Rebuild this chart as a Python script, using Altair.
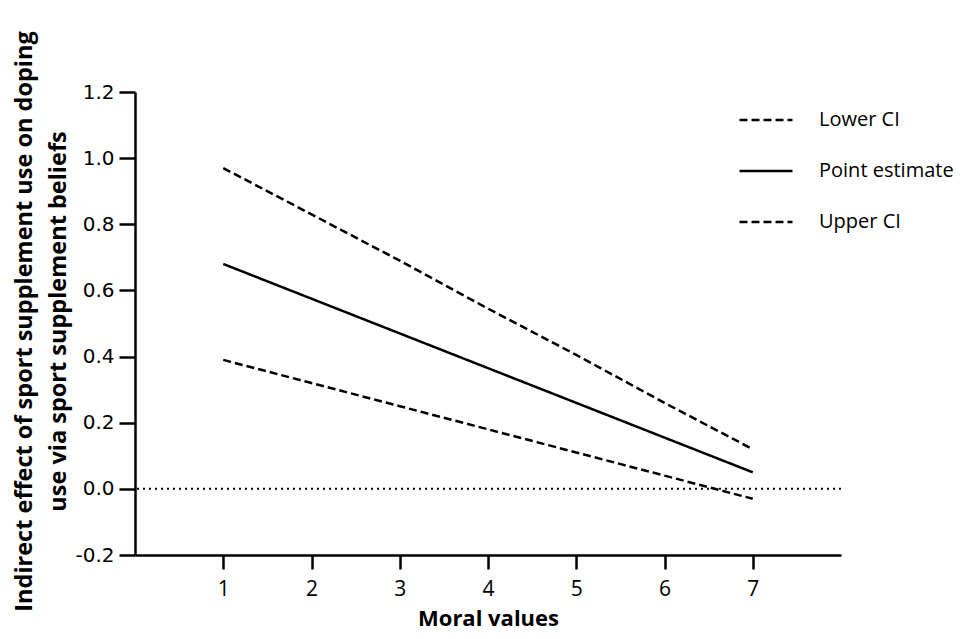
import altair as alt
import pandas as pd

moral = [1, 2, 3, 4, 5, 6, 7]
lower_ci = [0.39, 0.32, 0.25, 0.18, 0.11, 0.04, -0.03]
point_est = [0.68, 0.575, 0.47, 0.365, 0.26, 0.155, 0.05]
upper_ci = [0.97, 0.83, 0.69, 0.545, 0.405, 0.26, 0.12]
series_names = ["Lower CI", "Point estimate", "Upper CI"]
y_ticks = [-0.2, 0.0, 0.2, 0.4, 0.6, 0.8, 1.0, 1.2]
x_ticks = [1, 2, 3, 4, 5, 6, 7]

rows = []
for name, vals in zip(series_names, [lower_ci, point_est, upper_ci]):
    for m, v in zip(moral, vals):
        rows.append({"Moral": m, "Effect": v, "Series": name})
df = pd.DataFrame(rows)

x_scale = alt.Scale(domain=[0, 8], nice=False, zero=False)
y_scale = alt.Scale(domain=[-0.2, 1.2], nice=False, zero=False)

axis_style = dict(
    domainColor="black",
    domainWidth=2.5,
    domainOpacity=1,
    tickColor="black",
    tickWidth=2.5,
    tickOpacity=1,
    ticks=True,
    domain=True,
    grid=False,
)

zero = alt.Chart(pd.DataFrame({"Effect": [0.0]})).mark_rule(
    color="black", strokeDash=[2, 4], strokeWidth=2
).encode(y=alt.Y("Effect:Q", scale=y_scale))

lines = alt.Chart(df).mark_line(color="black", strokeWidth=2.5).encode(
    x=alt.X(
        "Moral:Q",
        scale=x_scale,
        axis=alt.Axis(
            values=x_ticks,
            title="Moral values",
            titleFont="Open Sans",
            titleFontSize=22,
            titleFontWeight="bold",
            titleColor="black",
            titleBaseline="alphabetic",
            titleY=70,
            labelFont="Open Sans",
            labelFontSize=21,
            labelColor="black",
            labelPadding=9,
            tickSize=14,
            **axis_style,
        ),
    ),
    y=alt.Y(
        "Effect:Q",
        scale=y_scale,
        axis=alt.Axis(
            values=y_ticks,
            format=".1f",
            labelExpr="replace(datum.label, '\u2212', '-')",
            title=["Indirect effect of sport  supplement use on doping",
                   "use via sport supplement beliefs"],
            titleFont="Open Sans",
            titleFontSize=23.5,
            titleFontWeight="bold",
            titleColor="black",
            titleBaseline="alphabetic",
            titleLineHeight=34,
            titleAngle=270,
            titleX=-104,
            titleY=229,
            titleAlign="center",
            labelFont="DejaVu Sans",
            labelFontSize=20,
            labelColor="black",
            labelPadding=5,
            tickSize=16,
            **axis_style,
        ),
    ),
    strokeDash=alt.StrokeDash(
        "Series:N",
        scale=alt.Scale(domain=series_names, range=[[8, 4], [1, 0], [8, 4]]),
        legend=alt.Legend(
            title=None,
            orient="none",
            legendX=603,
            legendY=0,
            symbolType="stroke",
            symbolSize=2809,
            symbolStrokeWidth=2.5,
            symbolStrokeColor="black",
            labelFont="Open Sans",
            labelFontSize=20,
            labelColor="black",
            labelOffset=25,
            rowPadding=13,
            padding=0,
        ),
    ),
    detail="Series:N",
)

chart = (
    alt.layer(zero, lines)
    .properties(
        width=706,
        height=463,
        background="white",
        autosize=alt.AutoSizeParams(type="none"),
        padding={"left": 127, "top": 84, "right": 122, "bottom": 76},
    )
    .configure_view(stroke=None)
)

chart.save("out.html", embed_options={"renderer": "svg", "actions": False})
